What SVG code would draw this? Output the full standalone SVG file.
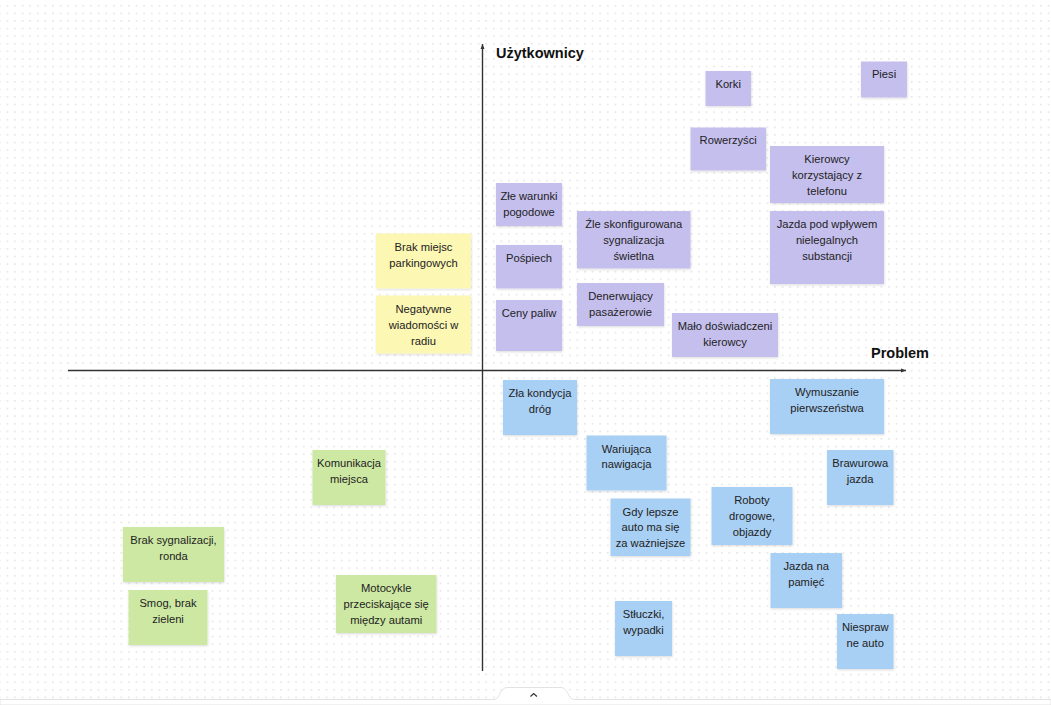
<svg xmlns="http://www.w3.org/2000/svg" width="1051" height="705" viewBox="0 0 1051 705">
<defs>
<pattern id="dots" patternUnits="userSpaceOnUse" x="6.5" y="4.9" width="7.6" height="7.6">
<rect x="0" y="0" width="1.6" height="1.6" fill="#e3e3e3"/>
</pattern>
<filter id="sh" x="-10%" y="-10%" width="130%" height="130%">
<feDropShadow dx="0.5" dy="1.2" stdDeviation="0.8" flood-color="#000" flood-opacity="0.13"/>
</filter>
<marker id="arr" viewBox="0 0 10 10" refX="9" refY="5" markerWidth="6" markerHeight="6" orient="auto" markerUnits="userSpaceOnUse">
<path d="M0,1.5 L9,5 L0,8.5 Z" fill="#333"/>
</marker>
</defs>
<style>
.n rect{filter:url(#sh);}
.p rect{fill:#c5bfee;}
.y rect{fill:#fcf7b3;}
.g rect{fill:#cde8a3;}
.b rect{fill:#a8cff4;}
.n text{font-family:"Liberation Sans",Arial,sans-serif;font-size:11.2px;fill:#222;text-anchor:middle;}
.ax{font-family:"Liberation Sans",Arial,sans-serif;font-size:14.5px;font-weight:bold;fill:#111;}
.axis{stroke:#333;stroke-width:1.4;fill:none;}
</style>
<rect width="1051" height="705" fill="#ffffff"/>
<rect width="1051" height="699" fill="url(#dots)"/>

<g id="connectors">
<line class="axis" x1="482.5" y1="671" x2="482.5" y2="44" marker-end="url(#arr)"/>
<line class="axis" x1="68" y1="370.5" x2="906" y2="370.5" marker-end="url(#arr)"/>
</g>

<text class="ax" x="496" y="58.3">Użytkownicy</text>
<text class="ax" x="871" y="357.5">Problem</text>

<g id="korki" class="n p"><rect x="705.5" y="71" width="45.5" height="35"/><text x="728.2" y="88">Korki</text></g>
<g id="piesi" class="n p"><rect x="861" y="61.5" width="46" height="36"/><text x="884" y="78">Piesi</text></g>
<g id="rowerzysci" class="n p"><rect x="690.5" y="127.5" width="75.5" height="43"/><text x="728.2" y="144">Rowerzyści</text></g>
<g id="kierowcy-telefon" class="n p"><rect x="770" y="146" width="114" height="57"/><text x="827" y="163.2">Kierowcy</text><text x="827" y="179.2">korzystający z</text><text x="827" y="195.2">telefonu</text></g>
<g id="jazda-substancje" class="n p"><rect x="770" y="211" width="114" height="73"/><text x="827" y="228">Jazda pod wpływem</text><text x="827" y="244">nielegalnych</text><text x="827" y="260">substancji</text></g>
<g id="malo-doswiadczeni" class="n p"><rect x="672" y="313" width="106" height="44"/><text x="725" y="330">Mało doświadczeni</text><text x="725" y="346">kierowcy</text></g>
<g id="zle-warunki" class="n p"><rect x="496" y="183" width="66" height="43"/><text x="529" y="199.5">Złe warunki</text><text x="529" y="215.8">pogodowe</text></g>
<g id="pospiech" class="n p"><rect x="496" y="245" width="66" height="43.5"/><text x="529" y="261.8">Pośpiech</text></g>
<g id="ceny-paliw" class="n p"><rect x="496" y="300" width="66" height="51"/><text x="529" y="317">Ceny paliw</text></g>
<g id="zle-skonfigurowana" class="n p"><rect x="577" y="211" width="113.5" height="57.5"/><text x="633.7" y="227.5">Źle skonfigurowana</text><text x="633.7" y="243.8">sygnalizacja</text><text x="633.7" y="259.8">świetlna</text></g>
<g id="denerwujacy" class="n p"><rect x="577" y="283" width="87" height="43"/><text x="620.5" y="299.8">Denerwujący</text><text x="620.5" y="315.8">pasażerowie</text></g>

<g id="brak-miejsc" class="n y"><rect x="376" y="233.5" width="95" height="55"/><text x="423.5" y="250.8">Brak miejsc</text><text x="423.5" y="266.5">parkingowych</text></g>
<g id="negatywne" class="n y"><rect x="376" y="295.5" width="95" height="58"/><text x="423.5" y="312.5">Negatywne</text><text x="423.5" y="328.8">wiadomości w</text><text x="423.5" y="344.8">radiu</text></g>

<g id="komunikacja" class="n g"><rect x="312.5" y="450" width="73" height="55"/><text x="349" y="467">Komunikacja</text><text x="349" y="483">miejsca</text></g>
<g id="brak-sygnalizacji" class="n g"><rect x="123" y="527" width="101" height="55"/><text x="173.5" y="544">Brak sygnalizacji,</text><text x="173.5" y="560">ronda</text></g>
<g id="smog" class="n g"><rect x="128.5" y="590" width="79" height="55"/><text x="168" y="607">Smog, brak</text><text x="168" y="622.5">zieleni</text></g>
<g id="motocykle" class="n g"><rect x="336" y="575" width="100.5" height="58"/><text x="386.2" y="592">Motocykle</text><text x="386.2" y="608">przeciskające się</text><text x="386.2" y="624">między autami</text></g>

<g id="zla-kondycja" class="n b"><rect x="503" y="380" width="74" height="55"/><text x="540" y="397">Zła kondycja</text><text x="540" y="413">dróg</text></g>
<g id="wymuszanie" class="n b"><rect x="770" y="379" width="114" height="55"/><text x="827" y="396">Wymuszanie</text><text x="827" y="412">pierwszeństwa</text></g>
<g id="wariujaca" class="n b"><rect x="586.5" y="435.5" width="80" height="55"/><text x="626.5" y="453">Wariująca</text><text x="626.5" y="468">nawigacja</text></g>
<g id="brawurowa" class="n b"><rect x="827" y="450" width="66.5" height="55"/><text x="860.2" y="467">Brawurowa</text><text x="860.2" y="483">jazda</text></g>
<g id="roboty" class="n b"><rect x="711.5" y="487" width="81" height="58"/><text x="752" y="504">Roboty</text><text x="752" y="520">drogowe,</text><text x="752" y="536">objazdy</text></g>
<g id="gdy-lepsze" class="n b"><rect x="610.5" y="498.5" width="80" height="57.5"/><text x="650.5" y="516">Gdy lepsze</text><text x="650.5" y="531">auto ma się</text><text x="650.5" y="547">za ważniejsze</text></g>
<g id="jazda-na-pamiec" class="n b"><rect x="770.5" y="553" width="71.5" height="55"/><text x="806.2" y="570">Jazda na</text><text x="806.2" y="586">pamięć</text></g>
<g id="stluczki" class="n b"><rect x="615" y="601" width="57" height="55"/><text x="643.5" y="618">Stłuczki,</text><text x="643.5" y="634">wypadki</text></g>
<g id="niesprawne" class="n b"><rect x="837" y="614" width="56.5" height="55"/><text x="865.2" y="631">Niespraw</text><text x="865.2" y="647">ne auto</text></g>

<path d="M0,699.5 L494,699.5 C500,699.5 500,687.5 507,687.5 L561,687.5 C568,687.5 568,699.5 574,699.5 L1051,699.5 L1051,705 L0,705 Z" fill="#ffffff" stroke="#e2e2e2" stroke-width="1"/>
<path d="M530.5,696.5 L533.7,693.5 L536.9,696.5" fill="none" stroke="#333" stroke-width="1.2"/>
</svg>
